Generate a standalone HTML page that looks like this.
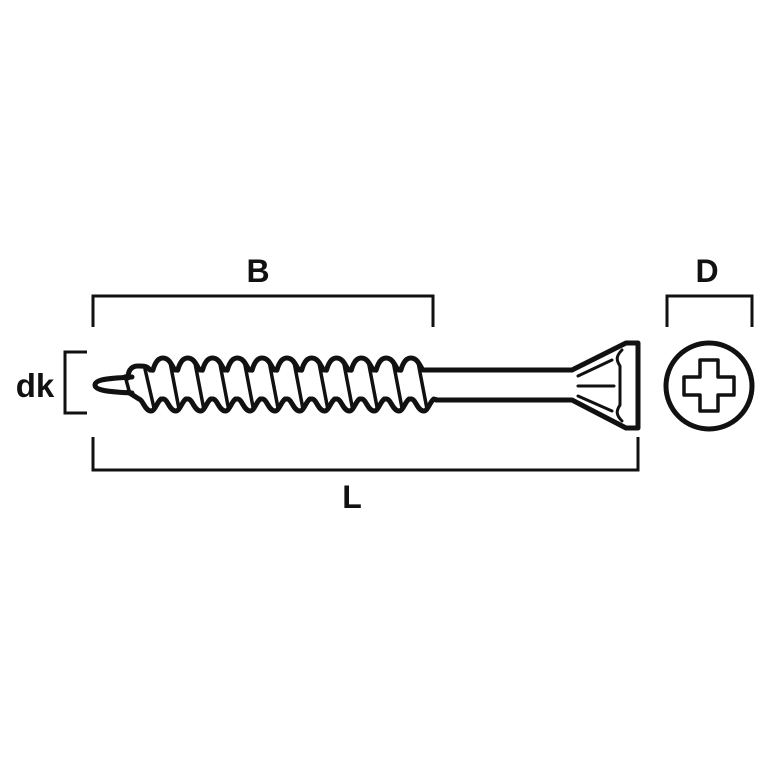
<!DOCTYPE html>
<html><head><meta charset="utf-8"><style>
html,body{margin:0;padding:0;background:#fff;width:770px;height:770px;overflow:hidden}
text{font-family:"Liberation Sans",Arial,sans-serif;font-weight:bold;fill:#111}
</style></head><body>
<svg id="s" width="770" height="770" viewBox="0 0 770 770" xmlns="http://www.w3.org/2000/svg">
<g fill="none" stroke="#111" stroke-width="3">
<path d="M93,327 V296 H433 V327"/>
<path d="M93,437 V470 H638 V437"/>
<path d="M667,327 V296 H752 V327"/>
<path d="M87,352 H65 V413 H87"/>
</g>
<text x="258" y="282" font-size="32" text-anchor="middle">B</text>
<text x="707" y="282" font-size="32" text-anchor="middle">D</text>
<text x="352" y="508" font-size="32" text-anchor="middle">L</text>
<text x="35" y="397" font-size="33" text-anchor="middle">dk</text>
<g id="screw" fill="none" stroke="#111" stroke-width="5" stroke-linejoin="round" stroke-linecap="round">
<path d="M132,377 C112,378 95,379 95,385 C95,391 112,392 132,393"/>
<path d="M432,370 H572 L626,343 H638 V428 H626 L572,400 H436"/>
<path d="M622,350 C616,356 616,360 620,366 V405 C616,411 616,415 622,421" stroke-width="3"/>
<path d="M578,376 L612,360 M578,386 H614 M578,396 L612,411" stroke-width="3"/>
<circle cx="709" cy="386" r="43"/>
<path d="M700,360 H718 V377 H734 V395 H718 V411 H700 V395 H684 V377 H700 Z" stroke-width="3.5"/>
</g>
</svg>
<script>
(function(){
var g=document.getElementById('screw'),ns='http://www.w3.org/2000/svg';
var n=12,p=24.8,x0=138;
var top='M128,378 ',bot='M128,392 ';
for(var i=0;i<n;i++){
 var c=x0+p*i, ty=(i==0?366:358);
 top+='C'+(c-10)+',372 '+(c-8)+','+ty+' '+c+','+ty+' C'+(c+7)+','+ty+' '+(c+9)+',366 '+(c+12)+',370 ';
 if(i<n-1) top+='L'+(c+p-10)+',370 ';
 var b=c+13;
 bot+='L'+(b-12)+',399 C'+(b-8)+',400 '+(b-6)+',411 '+b+',411 C'+(b+4)+',411 '+(b+6)+',402 '+(b+10)+',399 ';
 var l=document.createElementNS(ns,'path');
 l.setAttribute('d','M'+(c+7)+','+(ty+3)+' L'+(b+3)+',408');
 l.setAttribute('stroke-width','3.5');
 g.appendChild(l);
}
top+='L436,370';bot+='L438,400';
[top,bot].forEach(function(d){var e=document.createElementNS(ns,'path');e.setAttribute('d',d);g.appendChild(e);});
var t=document.createElementNS(ns,'path');t.setAttribute('d','M125,376 L130,394');t.setAttribute('stroke-width','3.5');g.appendChild(t);
})();
</script>
</body></html>
